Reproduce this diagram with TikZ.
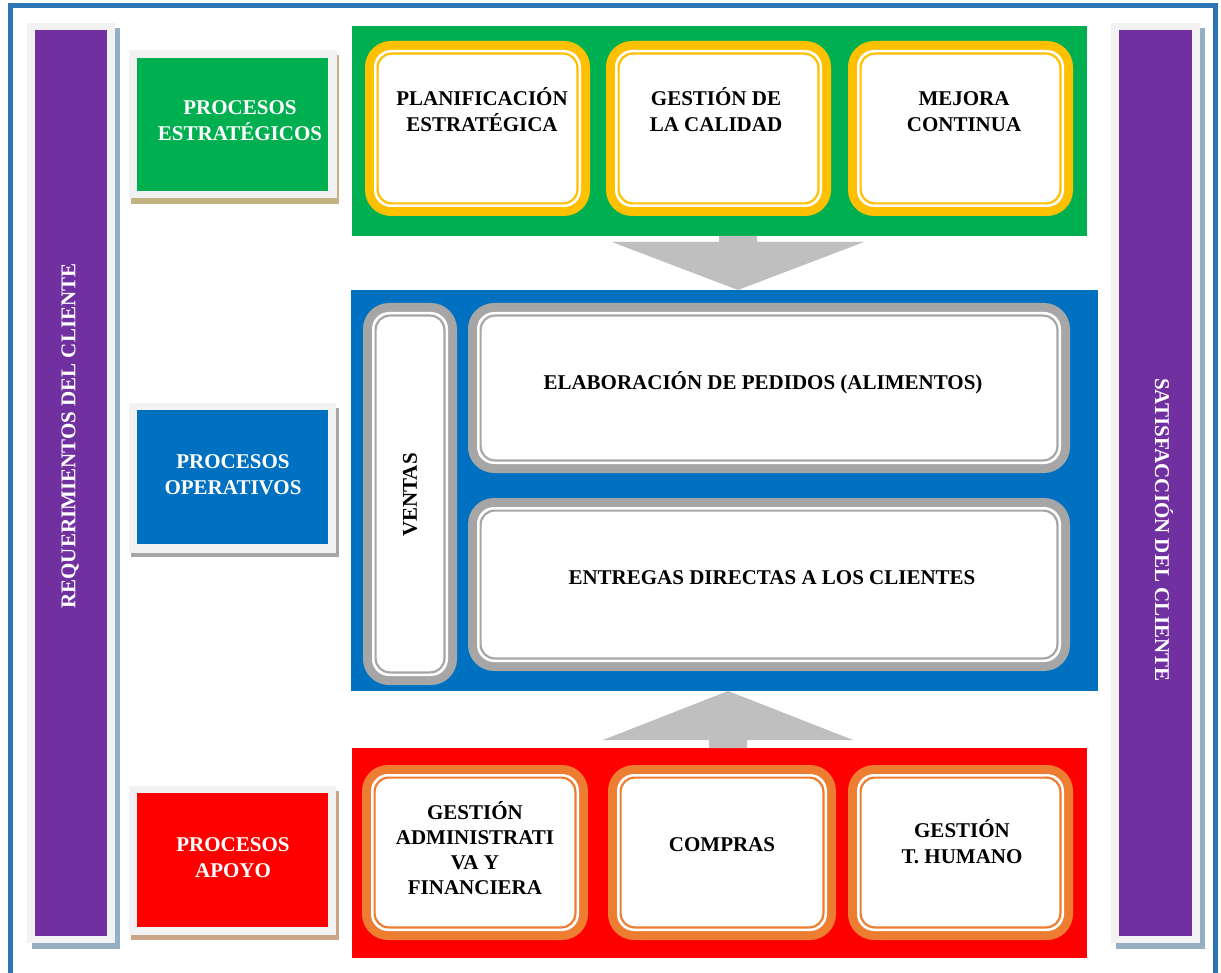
\documentclass[tikz,border=0pt]{standalone}
\usepackage{fontspec}
\setmainfont{Liberation Serif}
\usetikzlibrary{fit}

\definecolor{frameblue}{HTML}{2E75B6}
\definecolor{barpurple}{HTML}{7030A0}
\definecolor{barshadow}{HTML}{95AFC5}
\definecolor{paleframe}{HTML}{F2F2F2}
\definecolor{stratgreen}{HTML}{00B050}
\definecolor{opblue}{HTML}{0070C0}
\definecolor{supred}{HTML}{FF0000}
\definecolor{ringyellow}{HTML}{FFC000}
\definecolor{ringgray}{HTML}{A6A6A6}
\definecolor{ringorange}{HTML}{ED7D31}
\definecolor{arrowgray}{HTML}{BFBFBF}
\definecolor{tanshadow}{HTML}{C3B383}
\definecolor{grayshadow}{HTML}{A6A6A6}
\definecolor{roseshadow}{HTML}{C9A58A}

\tikzset{
  box/.style={fill=#1, draw=none, inner sep=0pt},
  ringbox/.style={fill=#1, draw=none, inner sep=0pt, rounded corners=26pt,
    path picture={
      \fill[white, rounded corners=17pt]
        ([shift={(9,9)}]path picture bounding box.north west) rectangle
        ([shift={(-9,-9)}]path picture bounding box.south east);
      \draw[#1, line width=2.2pt, rounded corners=14pt]
        ([shift={(12.6,12.6)}]path picture bounding box.north west) rectangle
        ([shift={(-12.6,-12.6)}]path picture bounding box.south east);
    }},
  txt/.style={font=\bfseries\fontsize{21}{26}\selectfont, align=center,
    inner sep=0pt, text=black},
  wtxt/.style={txt, text=white},
  blockarrow/.style={fill=arrowgray, draw=none}
}

\begin{document}
\begin{tikzpicture}[x=1pt, y=-1pt]
\useasboundingbox (0,0) rectangle (1221,973);
\fill[white] (0,0) rectangle (1221,973);

% outer frame
\draw[frameblue, line width=5pt] (10.5,5.5) rectangle (1215.5,1010);

% side bars
\node[box=barshadow, fit={(32,28) (120,949)}] (reqsh) {};
\node[box=paleframe, fit={(27,23) (115,943)}] (reqfr) {};
\node[box=barpurple, fit={(35,30) (107,936)}] (req) {};
\node[wtxt, rotate=90] (reqt) at (70,436) {REQUERIMIENTOS DEL CLIENTE};

\node[box=barshadow, fit={(1116,28) (1205,949)}] (satsh) {};
\node[box=paleframe, fit={(1111,23) (1200,943)}] (satfr) {};
\node[box=barpurple, fit={(1119,30) (1192,936)}] (sat) {};
\node[wtxt, rotate=-90] (satt) at (1164,530) {SATISFACCIÓN DEL CLIENTE};

% level labels
\node[box=tanshadow, fit={(131,55) (339,204)}] (l1sh) {};
\node[box=paleframe, fit={(129,50) (337,198)}] (l1fr) {};
\node[box=stratgreen, fit={(137,58) (328,191)}] (l1) {};
\node[wtxt] (l1t) at (240,121) {PROCESOS\\ESTRATÉGICOS};

\node[box=grayshadow, fit={(131,408) (339,557)}] (l2sh) {};
\node[box=paleframe, fit={(129,403) (336,553)}] (l2fr) {};
\node[box=opblue, fit={(137,410) (328,544)}] (l2) {};
\node[wtxt] (l2t) at (233,474.5) {PROCESOS\\OPERATIVOS};

\node[box=roseshadow, fit={(131,791) (339,940)}] (l3sh) {};
\node[box=paleframe, fit={(129,786) (336,935)}] (l3fr) {};
\node[box=supred, fit={(137,793) (328,927)}] (l3) {};
\node[wtxt] (l3t) at (233,857.5) {PROCESOS\\APOYO};

% strategic processes
\node[box=stratgreen, fit={(352,26) (1087,236)}] (strat) {};
\node[ringbox=ringyellow, fit={(365,41) (590,216)}] (plan) {};
\node[ringbox=ringyellow, fit={(606,41) (831,216)}] (cal) {};
\node[ringbox=ringyellow, fit={(848,41) (1073,216)}] (mej) {};
\node[txt] (plant) at (482,110) {PLANIFICACIÓN\\ESTRATÉGICA};
\node[txt] (calt) at (716,110) {GESTIÓN DE\\LA CALIDAD};
\node[txt] (mejt) at (964,112) {MEJORA\\CONTINUA};

% operational processes
\node[box=opblue, fit={(351,290) (1098,691)}] (oper) {};
\node[ringbox=ringgray, fit={(363,303) (457,685)}] (ven) {};
\node[ringbox=ringgray, fit={(468,303) (1070,473)}] (elab) {};
\node[ringbox=ringgray, fit={(468,498) (1070,671)}] (entr) {};
\node[txt, rotate=90] (vent) at (410,495) {VENTAS};
\node[txt] (elabt) at (763,383) {ELABORACIÓN DE PEDIDOS (ALIMENTOS)};
\node[txt] (entrt) at (772,578) {ENTREGAS DIRECTAS A LOS CLIENTES};

% support processes
\node[box=supred, fit={(352,748) (1087,958)}] (sup) {};
\node[ringbox=ringorange, fit={(362,765) (588,940)}] (adm) {};
\node[ringbox=ringorange, fit={(608,765) (836,940)}] (comp) {};
\node[ringbox=ringorange, fit={(848,765) (1073,940)}] (hum) {};
\node[txt, font=\bfseries\fontsize{21}{25}\selectfont] (admt) at (475,848)
  {GESTIÓN\\ADMINISTRATI\\VA Y\\FINANCIERA};
\node[txt] (compt) at (722,845) {COMPRAS};
\node[txt] (humt) at (962,842) {GESTIÓN\\T. HUMANO};

% block arrows between the levels
\coordinate (dtip) at (738,290);
\coordinate (utip) at (728,691);
\fill[blockarrow] (719,236) -- (757,236) -- (757,242) -- (864,242)
  -- (dtip) -- (612,242) -- (719,242) -- cycle;
\fill[blockarrow] (709,748) -- (747,748) -- (747,740) -- (853,740)
  -- (utip) -- (603,740) -- (709,740) -- cycle;
\end{tikzpicture}
\end{document}
